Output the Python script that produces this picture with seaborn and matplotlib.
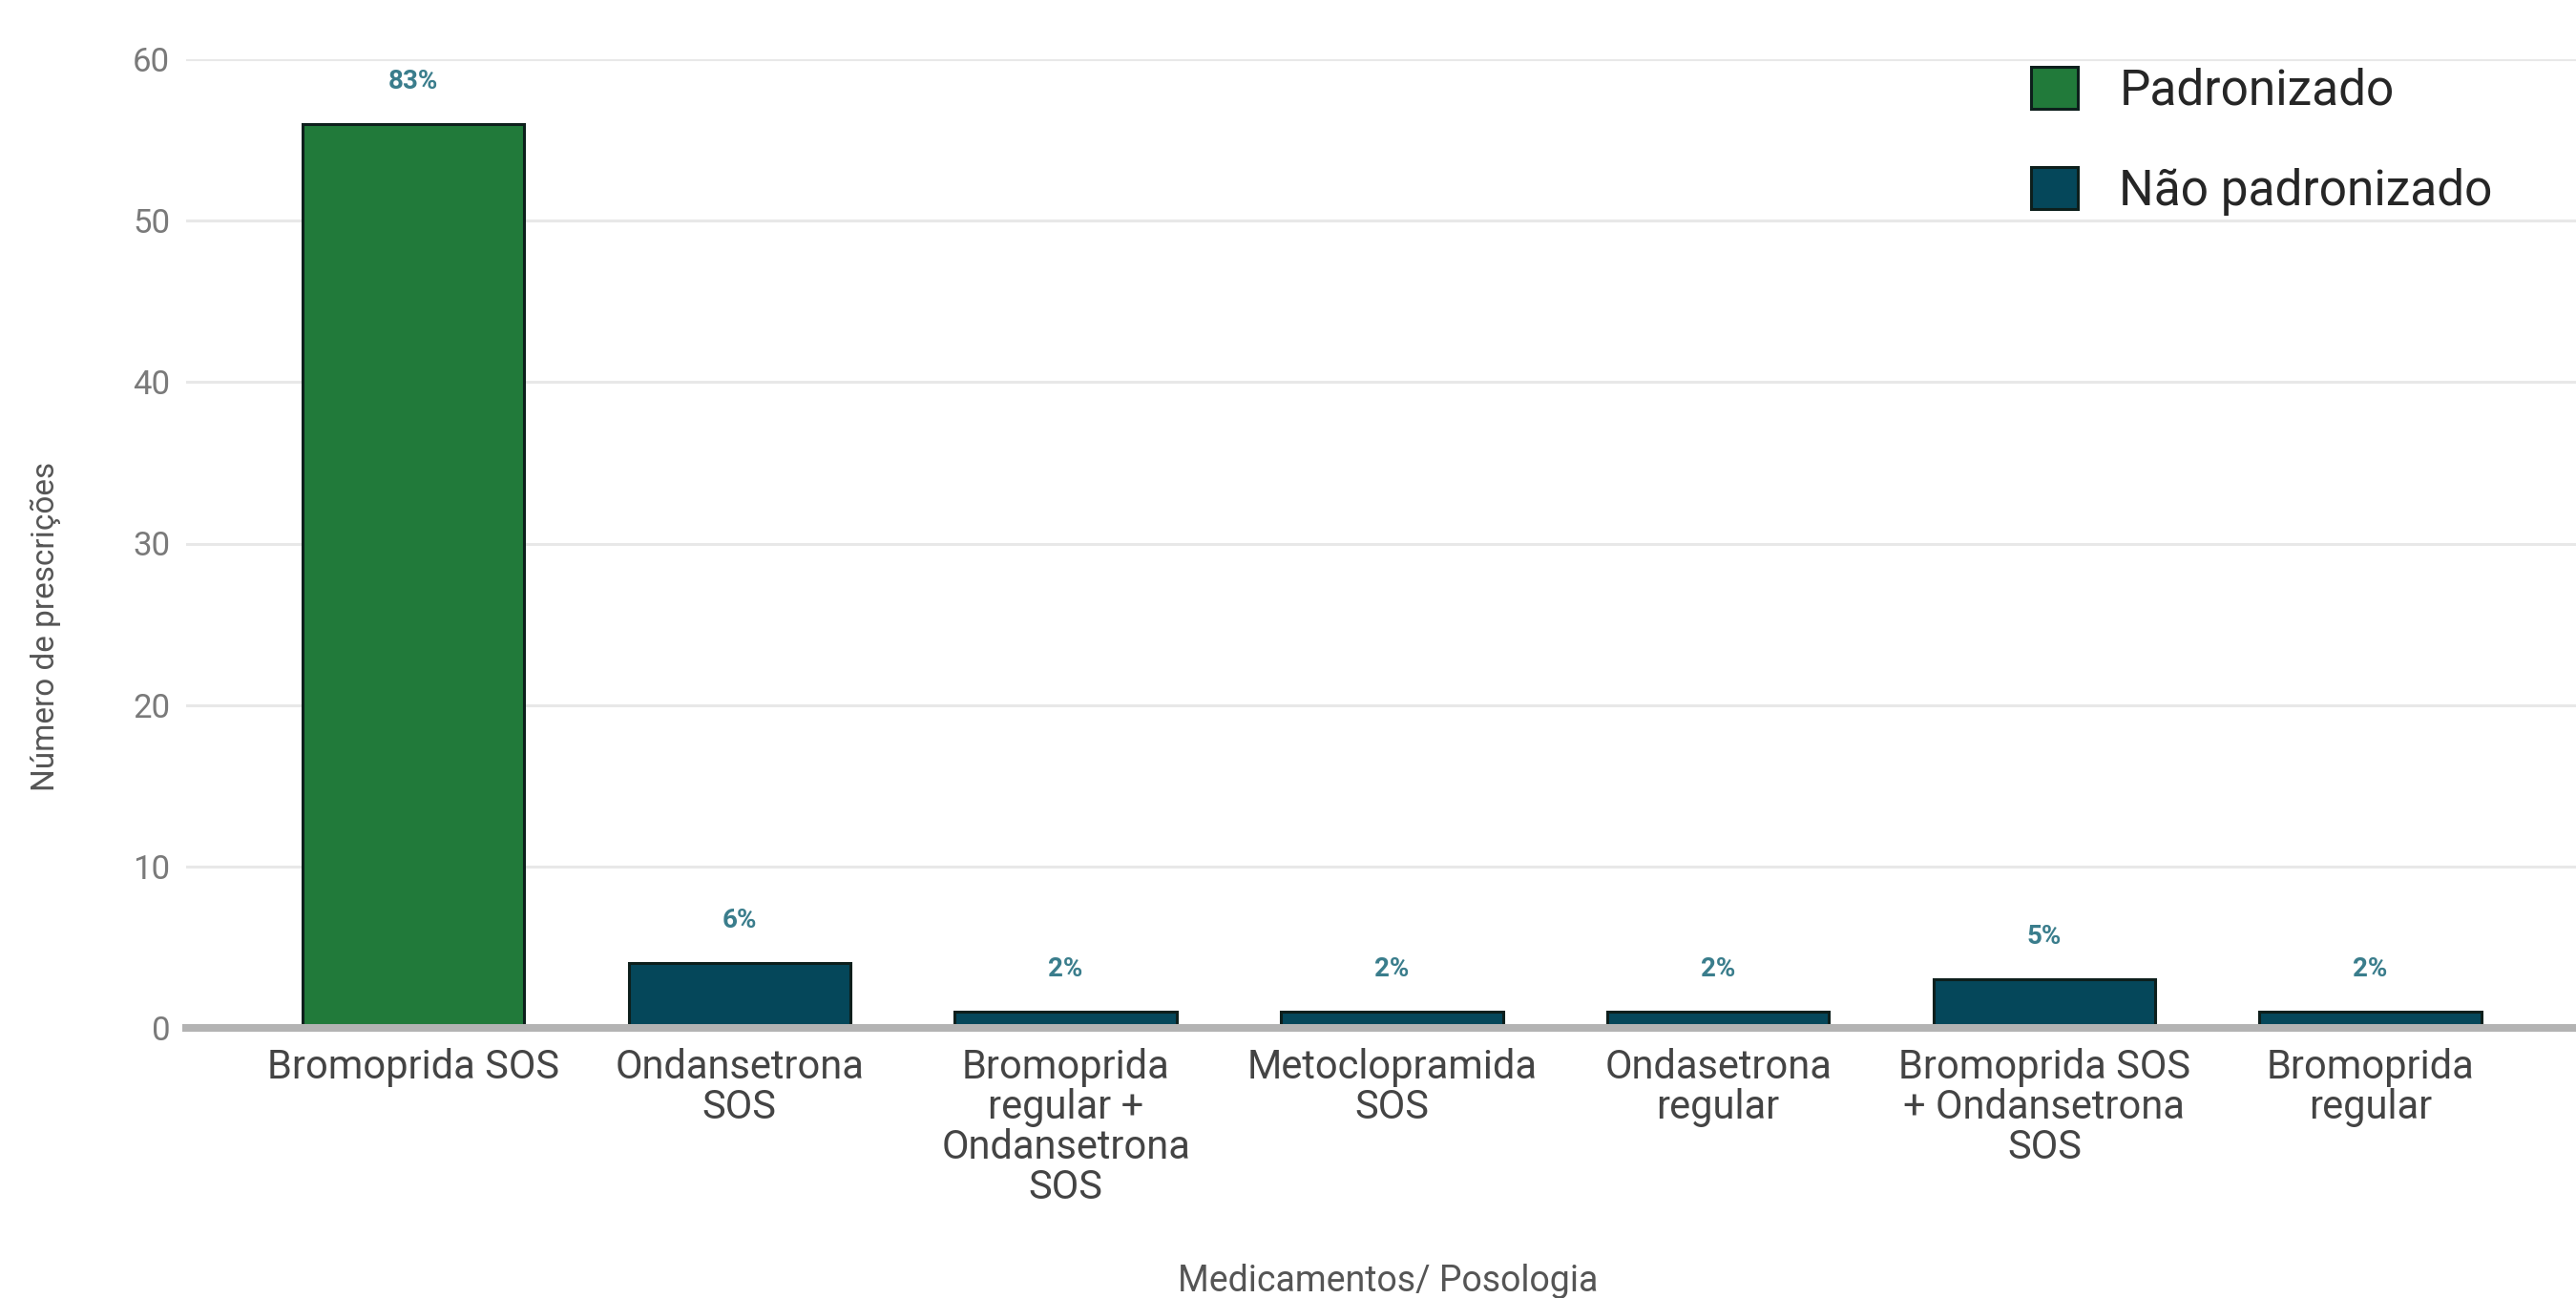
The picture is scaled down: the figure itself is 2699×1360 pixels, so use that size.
import matplotlib
matplotlib.use("Agg")
import matplotlib.pyplot as plt
import seaborn as sns
import pandas as pd

# Prescriptions of antiemetics by drug / dosing scheme
categories = [
    "Bromoprida SOS",
    "Ondansetrona\nSOS",
    "Bromoprida\nregular +\nOndansetrona\nSOS",
    "Metoclopramida\nSOS",
    "Ondasetrona\nregular",
    "Bromoprida SOS\n+ Ondansetrona\nSOS",
    "Bromoprida\nregular",
]
prescriptions = [56, 4, 1, 1, 1, 3, 1]
percent_labels = ["83%", "6%", "2%", "2%", "2%", "5%", "2%"]
groups = ["Padronizado", "Não padronizado", "Não padronizado", "Não padronizado",
          "Não padronizado", "Não padronizado", "Não padronizado"]
group_order = ["Padronizado", "Não padronizado"]
group_colors = {"Padronizado": "#217a3a", "Não padronizado": "#05475a"}
y_ticks = [0, 10, 20, 30, 40, 50, 60]

df = pd.DataFrame({"categoria": categories, "prescricoes": prescriptions, "grupo": groups})

sns.set_theme(style="white")
plt.rcParams["font.family"] = ["Roboto", "DejaVu Sans"]

fig = plt.figure(figsize=(26.99, 13.6), dpi=100)
ax = fig.add_axes([0.0722, 0.2081, 0.9278, 0.7463])

sns.barplot(data=df, x="categoria", y="prescricoes", hue="grupo", hue_order=group_order,
            palette=group_colors, saturation=1, dodge=False, width=0.68, order=categories,
            edgecolor="#0d1f1c", linewidth=2.2, ax=ax, zorder=3)

ax.set_ylim(0, 60)
ax.set_xlim(-0.697, 6.63)
ax.set_yticks(y_ticks)
ax.grid(axis="y", color="#e8e8e8", linewidth=2.2, zorder=0)
ax.grid(axis="x", visible=False)
ax.set_axisbelow(True)

for side in ["top", "right", "left"]:
    ax.spines[side].set_visible(False)
ax.spines["bottom"].set_color("#b3b3b3")
ax.spines["bottom"].set_linewidth(5.8)
ax.spines["bottom"].set_zorder(4)

ax.tick_params(axis="y", length=0, pad=12, labelsize=25, labelcolor="#7a7a7a")
ax.tick_params(axis="x", length=0, pad=15, labelsize=30, labelcolor="#444444")
for lbl in ax.get_xticklabels():
    lbl.set_linespacing(1.03)
    lbl.set_verticalalignment("top")

# Percentage annotations above each bar
for i, (val, txt) in enumerate(zip(prescriptions, percent_labels)):
    ax.annotate(txt, xy=(i, val), xytext=(0, 32), textcoords="offset points",
                ha="center", va="center", fontsize=20, fontweight="bold",
                color="#3a7d8c", zorder=5)

ax.set_xlabel("Medicamentos/ Posologia", fontsize=27, color="#555555", va="center")
ax.xaxis.set_label_coords(0.503, -0.262)
ax.set_ylabel("Número de prescrições", fontsize=24, color="#555555", va="center")
ax.yaxis.set_label_coords(-0.0587, 0.414)

handles, labels = ax.get_legend_handles_labels()
ax.get_legend().remove()
fig.legend(handles, labels, loc="upper left", bbox_to_anchor=(2128 / 2699, 1 - 70 / 1360),
           frameon=False, fontsize=37, handlelength=0.95, handleheight=0.95,
           handletextpad=0.85, labelspacing=1.05, borderpad=0, borderaxespad=0)

fig.savefig("out.png", dpi=100, facecolor="white")
